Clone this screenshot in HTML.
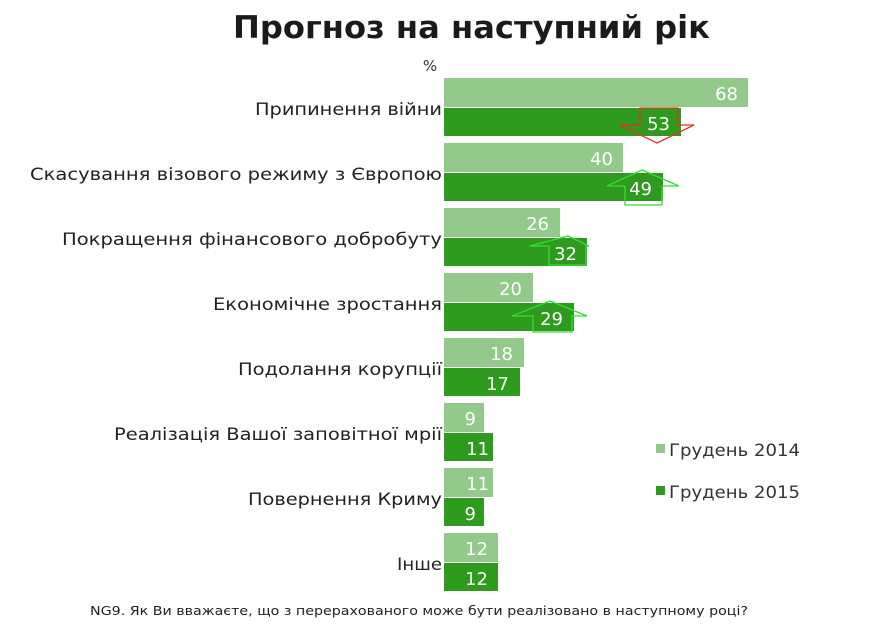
<!DOCTYPE html>
<html><head><meta charset="utf-8"><style>
body{margin:0;background:#fff}
svg text{font-family:"DejaVu Sans","Liberation Sans",sans-serif}
</style></head><body>
<svg width="890" height="627" xmlns="http://www.w3.org/2000/svg">
<text x="233" y="38" font-size="31" font-weight="bold" fill="#1a1a1a" textLength="477" lengthAdjust="spacingAndGlyphs">Прогноз на наступний рік</text>
<text x="430" y="71" font-size="15" text-anchor="middle" fill="#333">%</text>
<g font-size="17" fill="#222" text-anchor="end" lengthAdjust="spacingAndGlyphs">
<text x="442" y="115" textLength="187" lengthAdjust="spacingAndGlyphs">Припинення  війни</text>
<text x="442" y="180" textLength="412" lengthAdjust="spacingAndGlyphs">Скасування візового режиму з Європою</text>
<text x="442" y="245" textLength="380" lengthAdjust="spacingAndGlyphs">Покращення  фінансового добробуту</text>
<text x="442" y="310" textLength="229" lengthAdjust="spacingAndGlyphs">Економічне  зростання</text>
<text x="442" y="375" textLength="204" lengthAdjust="spacingAndGlyphs">Подолання  корупції</text>
<text x="442" y="440" textLength="328" lengthAdjust="spacingAndGlyphs">Реалізація Вашої заповітної мрії</text>
<text x="442" y="505" textLength="194" lengthAdjust="spacingAndGlyphs">Повернення  Криму</text>
<text x="442" y="570" textLength="45" lengthAdjust="spacingAndGlyphs">Інше</text>
</g>
<g fill="#93c98a">
<rect x="444" y="78" width="304" height="29"/>
<rect x="444" y="143" width="179" height="29"/>
<rect x="444" y="208" width="116" height="29"/>
<rect x="444" y="273" width="89" height="29"/>
<rect x="444" y="338" width="80" height="29"/>
<rect x="444" y="403" width="40" height="29"/>
<rect x="444" y="468" width="49" height="29"/>
<rect x="444" y="533" width="54" height="29"/>
</g>
<g fill="#2e9a1e">
<rect x="444" y="108" width="237" height="28"/>
<rect x="444" y="173" width="219" height="28"/>
<rect x="444" y="238" width="143" height="28"/>
<rect x="444" y="303" width="130" height="28"/>
<rect x="444" y="368" width="76" height="28"/>
<rect x="444" y="433" width="49" height="28"/>
<rect x="444" y="498" width="40" height="28"/>
<rect x="444" y="563" width="54" height="28"/>
</g>
<polygon points="640,108 678,108 678,125 694,125 657,143 620,125 640,125" fill="none" stroke="#e8302a" stroke-width="1.3"/>
<g fill="none" stroke="#33dd33" stroke-width="1.3">
<polygon points="642,170 679,186 662,186 662,205 625,205 625,186 607,186"/>
<polygon points="568,236 589,246 586,246 586,265 549,265 549,246 530,246"/>
<polygon points="550,301 587,316 572,316 572,332 533,332 533,316 512,316"/>
</g>
<g font-size="18" fill="#fff" text-anchor="end">
<text x="738" y="100">68</text><text x="670" y="130">53</text>
<text x="613" y="165">40</text><text x="652" y="195">49</text>
<text x="549" y="230">26</text><text x="577" y="260">32</text>
<text x="522" y="295">20</text><text x="563" y="325">29</text>
<text x="513" y="360">18</text><text x="509" y="390">17</text>
<text x="476" y="425">9</text><text x="489" y="455">11</text>
<text x="489" y="490">11</text><text x="476" y="520">9</text>
<text x="488" y="555">12</text><text x="488" y="585">12</text>
</g>
<rect x="656" y="444" width="9" height="9" fill="#93c98a"/>
<text x="669" y="456" font-size="17" fill="#333" textLength="131" lengthAdjust="spacingAndGlyphs">Грудень 2014</text>
<rect x="656" y="486" width="9" height="9" fill="#2e9a1e"/>
<text x="669" y="498" font-size="17" fill="#333" textLength="131" lengthAdjust="spacingAndGlyphs">Грудень 2015</text>
<text x="90" y="615" font-size="12" fill="#222" textLength="658" lengthAdjust="spacingAndGlyphs">NG9. Як Ви вважаєте, що з перерахованого може бути реалізовано в наступному році?</text>
</svg>
</body></html>
